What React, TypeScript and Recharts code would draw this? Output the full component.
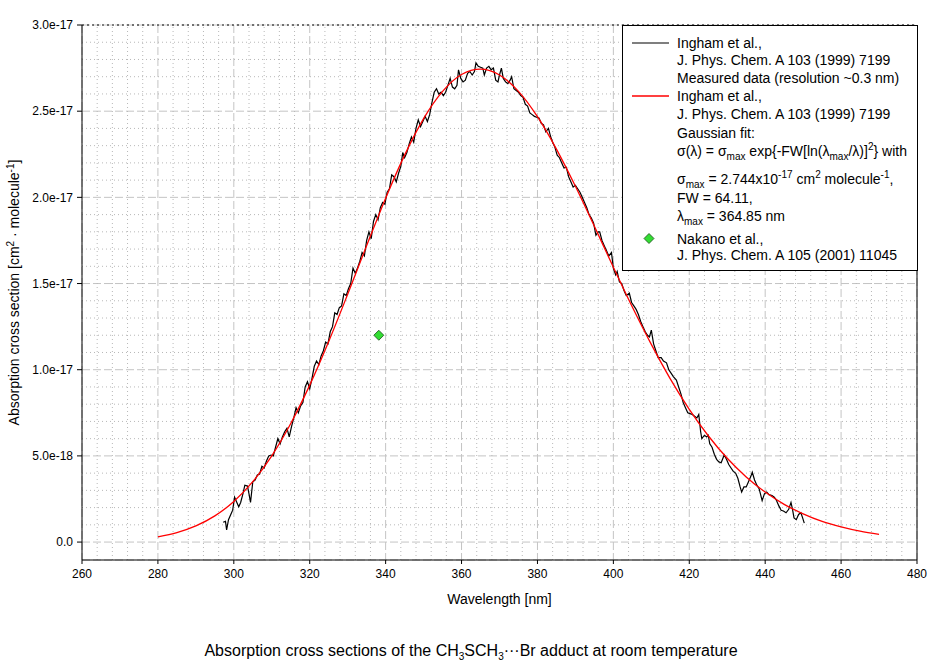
import { ComposedChart, Line, Scatter, XAxis, YAxis, CartesianGrid, ReferenceLine } from 'recharts';

const FONT = '"Liberation Sans", Arial, Helvetica, sans-serif';

// axis ticks (cross section in units of 1e-18 cm^2 molecule^-1)
const xTicks = [260, 280, 300, 320, 340, 360, 380, 400, 420, 440, 460, 480];
const yTicks = [0, 5, 10, 15, 20, 25, 30];
const xMinor = [
  264, 268, 272, 276, 284, 288, 292, 296, 304, 308, 312, 316, 324, 328, 332, 336,
  344, 348, 352, 356, 364, 368, 372, 376, 384, 388, 392, 396, 404, 408, 412, 416,
  424, 428, 432, 436, 444, 448, 452, 456, 464, 468, 472, 476,
];
const yMinor = [1, 2, 3, 4, 6, 7, 8, 9, 11, 12, 13, 14, 16, 17, 18, 19, 21, 22, 23, 24, 26, 27, 28, 29];

// Ingham et al. measured spectrum [wavelength nm, sigma 1e-18]
const measured: [number, number][] = [
  [297.2, 1.15], [297.8, 1.2], [298.1, 0.7], [298.6, 1.3], [299.2, 1.6], [299.7, 1.85],
  [300.2, 2.6], [300.8, 2.3], [301.3, 2.05], [301.8, 2.3], [302.4, 2.8], [302.9, 3.3],
  [303.6, 3.25], [304.0, 2.8], [304.4, 2.3], [305.0, 3.5], [305.6, 3.6], [306.2, 3.9],
  [306.8, 3.95], [307.4, 4.4], [308.0, 4.3], [308.6, 4.7], [309.2, 5.0], [309.8, 5.05],
  [310.4, 5.0], [311.0, 5.5], [311.6, 6.0], [312.2, 5.7], [312.8, 6.1], [313.4, 6.4],
  [314.0, 6.6], [314.6, 6.1], [315.2, 6.7], [315.8, 7.2], [316.4, 7.8], [317.0, 7.5],
  [317.6, 7.9], [318.2, 8.1], [318.8, 9.0], [319.4, 9.3], [320.0, 8.9], [320.6, 9.5],
  [321.2, 10.2], [321.8, 10.5], [322.4, 10.3], [323.0, 10.8], [323.6, 11.1], [324.2, 11.6],
  [324.8, 11.5], [325.4, 12.2], [326.0, 12.5], [326.6, 13.3], [327.2, 13.2], [327.8, 13.6],
  [328.4, 13.7], [329.0, 14.4], [329.6, 14.3], [330.2, 14.7], [330.8, 15.0], [331.4, 15.9],
  [332.0, 15.6], [332.6, 15.9], [333.2, 16.3], [333.8, 16.8], [334.4, 16.6], [335.0, 17.5],
  [335.6, 18.0], [336.2, 17.6], [336.8, 18.6], [337.4, 19.0], [338.0, 18.7], [338.6, 19.4],
  [339.2, 19.7], [339.8, 19.6], [340.4, 20.3], [341.0, 20.5], [341.6, 21.3], [342.2, 21.2],
  [342.8, 20.9], [343.4, 21.4], [344.0, 21.8], [344.5, 22.6], [345.0, 22.3], [345.6, 22.6],
  [346.2, 23.1], [346.8, 23.5], [347.4, 23.2], [348.0, 24.0], [348.6, 24.5], [349.2, 24.1],
  [349.8, 24.4], [350.4, 24.7], [351.0, 24.4], [351.6, 24.8], [352.2, 25.5], [352.8, 26.1],
  [353.4, 26.3], [354.0, 26.0], [354.6, 26.1], [355.2, 25.9], [355.8, 26.1], [356.4, 26.5],
  [357.0, 26.9], [357.6, 26.4], [358.2, 26.3], [358.8, 26.5], [359.2, 27.4], [359.8, 26.9],
  [360.4, 26.7], [361.0, 26.8], [361.6, 27.2], [362.2, 27.3], [362.8, 27.1], [363.4, 27.3],
  [363.8, 27.8], [364.4, 27.6], [365.0, 27.55], [365.6, 27.5], [366.0, 27.1], [366.6, 27.5],
  [367.2, 27.6], [367.8, 27.4], [368.4, 27.5], [369.0, 26.8], [369.6, 26.7], [370.0, 27.1],
  [370.5, 27.5], [371.0, 26.9], [371.6, 26.7], [372.2, 26.6], [372.8, 26.8], [373.2, 27.0],
  [373.8, 26.3], [374.4, 26.2], [375.0, 26.1], [375.6, 25.9], [376.2, 25.8], [376.8, 25.4],
  [377.4, 25.3], [378.0, 24.9], [378.6, 24.8], [379.2, 24.7], [379.8, 24.65], [380.4, 24.6],
  [381.0, 24.3], [381.6, 24.2], [382.2, 23.8], [382.9, 24.0], [383.5, 23.5], [384.0, 23.2],
  [384.6, 22.9], [385.2, 22.45], [385.8, 22.3], [386.4, 22.0], [387.0, 21.7], [387.6, 21.75],
  [388.2, 21.2], [388.8, 20.9], [389.4, 20.6], [390.0, 20.7], [390.6, 20.5], [391.2, 20.3],
  [391.8, 20.0], [392.4, 19.7], [393.0, 19.4], [393.6, 19.0], [394.2, 18.8], [394.8, 18.5],
  [395.4, 17.8], [396.0, 18.0], [396.4, 18.0], [397.0, 17.5], [397.6, 17.2], [398.2, 16.9],
  [398.8, 16.6], [399.5, 16.8], [400.0, 15.9], [400.6, 15.5], [401.0, 15.7], [401.6, 15.1],
  [402.2, 15.0], [402.8, 14.6], [403.4, 14.3], [404.2, 14.45], [404.8, 13.9], [405.4, 13.7],
  [406.0, 13.5], [406.6, 13.2], [407.2, 12.8], [407.8, 12.5], [408.4, 12.2], [409.0, 12.0],
  [409.5, 11.9], [410.0, 12.3], [410.6, 11.5], [411.2, 11.1], [411.8, 10.7], [412.6, 10.7],
  [413.2, 10.5], [414.0, 10.4], [414.6, 10.0], [415.2, 9.8], [415.8, 9.6], [416.6, 9.4],
  [417.2, 9.0], [417.8, 8.6], [418.4, 8.1], [419.0, 7.8], [419.6, 7.5], [420.2, 7.45],
  [420.8, 7.4], [421.4, 7.3], [422.0, 7.2], [422.5, 7.4], [423.0, 6.4], [423.3, 6.0],
  [424.0, 6.2], [424.6, 6.1], [425.0, 6.2], [425.4, 5.7], [426.0, 5.5], [426.6, 5.1],
  [427.2, 4.8], [427.8, 4.65], [428.4, 4.6], [429.2, 5.05], [429.8, 4.8], [430.4, 4.5],
  [431.0, 4.3], [431.6, 4.1], [432.2, 4.0], [432.8, 3.7], [433.4, 3.2], [433.8, 2.9],
  [434.4, 3.2], [435.0, 3.2], [435.6, 3.5], [436.2, 3.8], [436.6, 4.05], [437.2, 3.6],
  [437.8, 3.3], [438.4, 3.1], [439.2, 2.4], [439.8, 2.8], [440.4, 2.9], [441.0, 2.75],
  [441.8, 2.7], [442.4, 2.6], [442.9, 2.45], [443.6, 2.1], [444.2, 1.85], [444.8, 1.8],
  [445.5, 1.7], [446.2, 1.9], [446.8, 2.3], [447.2, 1.9], [447.6, 1.4], [448.2, 1.3],
  [448.8, 1.6], [449.4, 1.7], [449.8, 1.45], [450.3, 1.1],
];

// Gaussian fit curve [wavelength nm, sigma 1e-18]
const gaussFit: [number, number][] = [
  [280, 0.307], [285, 0.549], [290, 0.935], [295, 1.518], [300, 2.356], [305, 3.505],
  [310, 5.005], [315, 6.878], [320, 9.106], [325, 11.637], [330, 14.38], [335, 17.2],
  [340, 19.95], [345, 22.45], [350, 24.57], [355, 26.15], [360, 27.13], [365, 27.44],
  [370, 27.1], [375, 26.15], [380, 24.68], [385, 22.8], [390, 20.64], [395, 18.32],
  [400, 15.95], [405, 13.64], [410, 11.47], [415, 9.47], [420, 7.7], [425, 6.17],
  [430, 4.86], [435, 3.78], [440, 2.9], [445, 2.19], [450, 1.64], [455, 1.2],
  [460, 0.88], [465, 0.63], [470, 0.45],
];

// Nakano et al. single point
const nakanoWl = [338.2];
const nakanoSigma = [12.0];

const measuredData = measured.map(([wl, sigma]) => ({ wl, sigma }));
const fitData = gaussFit.map(([wl, sigma]) => ({ wl, sigma }));
const nakanoData = nakanoWl.map((wl, i) => ({ wl, sigma: nakanoSigma[i] }));

const formatY = (v: number) => (v === 0 ? '0.0' : (v * 1e-18).toExponential(1));

function Diamond(props: any) {
  const { cx, cy } = props;
  const r = 5;
  return (
    <polygon
      points={`${cx},${cy - r} ${cx + r},${cy} ${cx},${cy + r} ${cx - r},${cy}`}
      fill="#33dd33"
      stroke="#1a4d1a"
      strokeWidth={0.8}
    />
  );
}

function YLabel(props: any) {
  const { viewBox } = props;
  const cy = viewBox.y + viewBox.height / 2;
  const x = 19;
  return (
    <text
      x={x}
      y={cy}
      transform={`rotate(-90 ${x} ${cy})`}
      textAnchor="middle"
      fontSize={14}
      fontFamily={FONT}
      fill="#000"
    >
      Absorption cross section [cm
      <tspan dy={-5} fontSize={10}>2</tspan>
      <tspan dy={5}> · molecule</tspan>
      <tspan dy={-5} fontSize={10}>-1</tspan>
      <tspan dy={5}>]</tspan>
    </text>
  );
}

const sub = { fontSize: 10, verticalAlign: 'sub' as const, lineHeight: 0 };
const sup = { fontSize: 10, verticalAlign: 'super' as const, lineHeight: 0 };

function LegendLine({ top, children }: { top: number; children: any }) {
  return (
    <div style={{ position: 'absolute', left: 54, top: top - 25 - 9, lineHeight: '18px', whiteSpace: 'nowrap' }}>
      {children}
    </div>
  );
}

function LegendBox() {
  return (
    <div style={{
      position: 'absolute',
      left: 622,
      top: 25,
      width: 294,
      height: 244,
      border: '1px solid #000',
      background: '#fff',
      fontFamily: FONT,
      fontSize: 14,
      color: '#000',
    }}>
      <svg width={60} height={244} style={{ position: 'absolute', left: 0, top: 0 }}>
        <line x1={9} x2={46} y1={17} y2={17} stroke="#000" strokeWidth={1.2} />
        <line x1={9} x2={46} y1={70} y2={70} stroke="#ff0000" strokeWidth={1.3} />
        <Diamond cx={26} cy={212.5} />
      </svg>
      <LegendLine top={42}>Ingham et al.,</LegendLine>
      <LegendLine top={59}>J. Phys. Chem. A 103 (1999) 7199</LegendLine>
      <LegendLine top={77}>Measured data (resolution ~0.3 nm)</LegendLine>
      <LegendLine top={95}>Ingham et al.,</LegendLine>
      <LegendLine top={113}>J. Phys. Chem. A 103 (1999) 7199</LegendLine>
      <LegendLine top={131.5}>Gaussian fit:</LegendLine>
      <LegendLine top={150}>
        σ(λ) = σ<span style={sub}>max</span> exp{'{'}-FW[ln(λ<span style={sub}>max</span>/λ)]<span style={sup}>2</span>{'}'} with
      </LegendLine>
      <LegendLine top={178}>
        σ<span style={sub}>max</span> = 2.744x10<span style={sup}>-17</span> cm<span style={sup}>2</span> molecule<span style={sup}>-1</span>,
      </LegendLine>
      <LegendLine top={196.5}>FW = 64.11,</LegendLine>
      <LegendLine top={215}>
        λ<span style={sub}>max</span> = 364.85 nm
      </LegendLine>
      <LegendLine top={237.5}>Nakano et al.,</LegendLine>
      <LegendLine top={253.5}>J. Phys. Chem. A 105 (2001) 11045</LegendLine>
    </div>
  );
}

export default function App() {
  return (
    <div style={{ position: 'absolute', left: 0, top: 0, width: 942, height: 669, background: '#fff' }}>
      <ComposedChart
        width={942}
        height={669}
        margin={{ top: 25, right: 25, bottom: 79, left: 22 }}
      >
        <CartesianGrid stroke="#c4c4c4" strokeDasharray="8 3" />
        {xMinor.map((v) => (
          <ReferenceLine key={`xm-${v}`} x={v} stroke="#b8b8b8" strokeDasharray="1 3" />
        ))}
        {yMinor.map((v) => (
          <ReferenceLine key={`ym-${v}`} y={v} stroke="#b8b8b8" strokeDasharray="1 3" />
        ))}
        <ReferenceLine y={30} stroke="#000" strokeDasharray="2 3" />
        <ReferenceLine x={480} stroke="#000" />
        <XAxis
          dataKey="wl"
          type="number"
          domain={[260, 480]}
          ticks={xTicks}
          allowDataOverflow
          height={30}
          tickSize={4}
          tickMargin={5}
          stroke="#000"
          tick={{ fill: '#000', fontSize: 12, fontFamily: FONT }}
          label={{ value: 'Wavelength [nm]', position: 'bottom', offset: 4, fill: '#000', fontSize: 14, fontFamily: FONT }}
        />
        <YAxis
          type="number"
          domain={[-1.04, 30]}
          ticks={yTicks}
          allowDataOverflow
          width={60}
          tickSize={5}
          tickMargin={4}
          stroke="#000"
          tickFormatter={formatY}
          tick={{ fill: '#000', fontSize: 12, fontFamily: FONT }}
          label={<YLabel />}
        />
        <Line
          data={measuredData}
          dataKey="sigma"
          type="linear"
          stroke="#000"
          strokeWidth={1.2}
          dot={false}
          isAnimationActive={false}
        />
        <Line
          data={fitData}
          dataKey="sigma"
          type="monotone"
          stroke="#ff0000"
          strokeWidth={1.3}
          dot={false}
          isAnimationActive={false}
        />
        <Scatter
          data={nakanoData}
          dataKey="sigma"
          shape={<Diamond />}
          isAnimationActive={false}
        />
      </ComposedChart>
      <LegendBox />
      <div style={{
        position: 'absolute',
        left: 0,
        width: 942,
        top: 641,
        textAlign: 'center',
        fontFamily: FONT,
        fontSize: 16,
        lineHeight: '20px',
        color: '#000',
      }}>
        Absorption cross sections of the CH<span style={sub}>3</span>SCH<span style={sub}>3</span>···Br adduct at room temperature
      </div>
    </div>
  );
}
